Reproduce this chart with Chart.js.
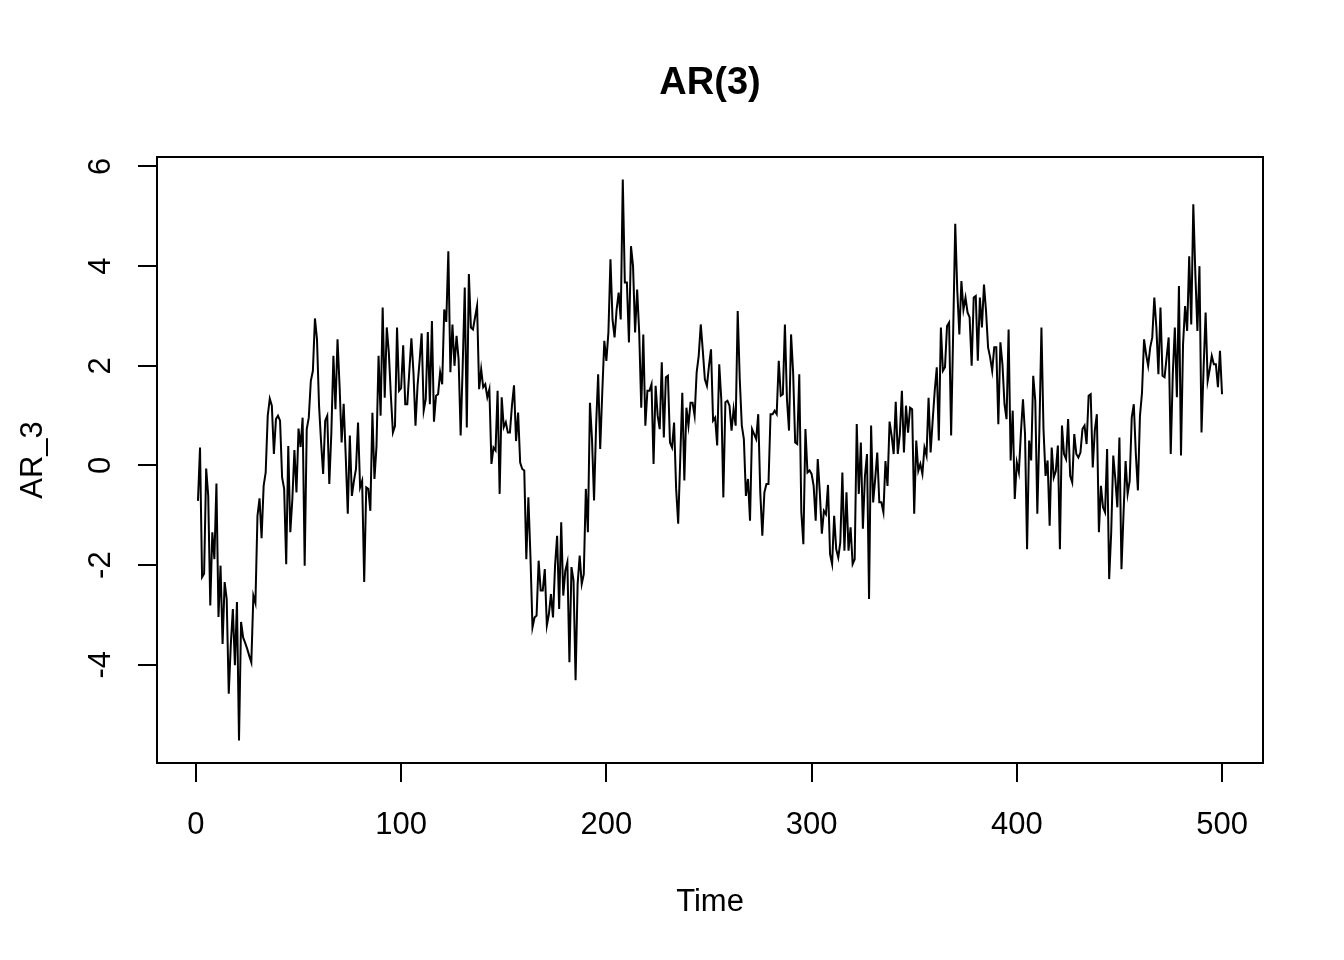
<!DOCTYPE html>
<html>
<head>
<meta charset="utf-8">
<script src="https://cdn.jsdelivr.net/npm/chart.js@4/dist/chart.umd.min.js"></script>
<style>
  html, body { margin: 0; padding: 0; background: #fff; }
  #wrap { width: 1344px; height: 960px; }
</style>
</head>
<body>
<div id="wrap"><canvas id="chart" width="1344" height="960"></canvas></div>
<script>
// AR(3) simulated series (t = 1..500)
const ar3 = [
  -0.71, 0.36, -2.24, -2.17, -0.06, -0.61, -2.81, -1.34, -1.88, -0.36,
  -3.04, -2.01, -3.58, -2.34, -2.68, -4.58, -3.6, -2.88, -4.01, -2.74,
  -5.52, -3.14, -3.45, -3.56, -3.68, -3.82, -3.95, -2.61, -2.76, -1.01,
  -0.66, -1.46, -0.41, -0.14, 1.0, 1.34, 1.2, 0.23, 0.93, 1.0,
  0.9, -0.24, -0.47, -1.98, 0.39, -1.34, -0.67, 0.31, -0.54, 0.74,
  0.37, 0.96, -2.01, 0.73, 0.96, 1.7, 1.9, 2.95, 2.53, 1.2,
  0.46, -0.17, 0.9, 1.0, -0.37, 0.66, 2.2, 1.13, 2.53, 1.6,
  0.46, 1.24, 0.19, -0.97, 0.6, -0.61, -0.31, -0.07, 0.86, -0.44,
  -0.31, -2.34, -0.44, -0.47, -0.91, 1.06, -0.27, 0.39, 2.2, 1.0,
  3.17, 1.36, 2.77, 2.27, 1.4, 0.66, 0.79, 2.77, 1.5, 1.55,
  2.41, 1.23, 1.23, 1.9, 2.55, 1.87, 0.8, 1.6, 2.1, 2.65,
  1.1, 1.33, 2.68, 1.23, 2.9, 0.88, 1.4, 1.43, 1.87, 1.63,
  3.13, 2.88, 4.3, 1.87, 2.83, 2.0, 2.6, 2.13, 0.6, 2.0,
  3.57, 0.76, 3.84, 2.77, 2.73, 2.97, 3.2, 1.53, 1.93, 1.57,
  1.63, 1.37, 1.53, 0.03, 0.36, 0.3, 1.5, -0.57, 1.37, 0.77,
  0.87, 0.66, 0.66, 1.2, 1.61, 0.49, 1.06, 0.06, -0.07, -0.1,
  -1.88, -0.64, -1.81, -3.25, -3.05, -3.01, -1.91, -2.51, -2.51, -2.08,
  -3.21, -2.98, -2.58, -3.05, -2.01, -1.41, -2.88, -1.14, -2.61, -2.11,
  -1.94, -3.95, -2.04, -2.31, -4.31, -2.38, -1.81, -2.38, -2.18, -0.47,
  -1.34, 1.26, 0.53, -0.7, 0.8, 1.83, 0.33, 1.46, 2.5, 2.1,
  2.67, 4.14, 2.93, 2.57, 3.13, 3.47, 2.93, 5.74, 3.67, 3.67,
  2.47, 4.4, 4.0, 2.67, 3.53, 2.67, 1.16, 2.63, 0.8, 1.5,
  1.5, 1.63, 0.03, 1.6, 1.0, 0.73, 2.07, 0.56, 1.77, 1.8,
  0.46, 0.36, 0.86, -0.47, -1.17, 0.13, 1.46, -0.3, 1.16, 0.8,
  1.26, 1.26, 1.0, 1.87, 2.2, 2.83, 2.3, 1.73, 1.6, 2.0,
  2.33, 0.9, 0.96, 0.4, 2.03, 1.33, -0.64, 1.27, 1.3, 1.2,
  0.7, 1.13, 0.8, 3.1, 1.73, 0.8, 0.53, -0.61, -0.27, -1.11,
  0.73, 0.63, 0.53, 1.03, -0.54, -1.41, -0.54, -0.37, -0.37, 1.03,
  1.03, 1.1, 1.03, 2.1, 1.4, 1.43, 2.83, 1.33, 0.7, 2.63,
  1.87, 0.46, 0.43, 1.83, -0.94, -1.58, 0.73, -0.14, -0.1, -0.17,
  -0.41, -1.11, 0.13, -0.54, -1.37, -0.91, -0.98, -0.39, -1.78, -1.98,
  -1.01, -1.68, -1.85, -1.54, -0.14, -1.71, -0.54, -1.71, -1.24, -1.98,
  -1.88, 0.83, -0.57, 0.46, -1.27, -0.21, 0.23, -2.68, 0.8, -0.74,
  -0.27, 0.26, -0.74, -0.74, -0.94, 0.09, -0.41, 0.88, 0.6, 0.23,
  1.28, 0.23, 0.63, 1.5, 0.26, 1.2, 0.66, 1.16, 1.13, -0.97,
  0.5, -0.11, 0.03, -0.17, 0.36, 0.2, 1.36, 0.26, 0.9, 1.5,
  1.97, 0.5, 2.77, 1.9, 1.97, 2.8, 2.87, 0.6, 2.7, 4.85,
  3.5, 2.63, 3.7, 3.13, 3.37, 3.07, 2.97, 2.0, 3.37, 3.4,
  2.1, 3.37, 2.77, 3.63, 3.1, 2.37, 2.17, 1.9, 2.37, 2.37,
  0.83, 2.47, 2.03, 1.23, 0.93, 2.73, 0.1, 1.1, -0.67, 0.06,
  -0.14, 0.66, 1.33, 0.63, -1.68, 0.5, 0.1, 1.8, 1.3, -0.97,
  0.7, 2.77, 0.73, -0.21, 0.1, -1.21, 0.36, -0.24, -0.11, 0.4,
  -1.68, 0.8, 0.23, 0.13, 0.93, -0.21, -0.34, 0.63, 0.23, 0.16,
  0.26, 0.73, 0.8, 0.43, 1.4, 1.43, -0.04, 0.7, 1.03, -1.34,
  -0.41, -0.84, -0.94, 0.33, -2.28, -1.34, 0.2, -0.27, -0.84, 0.56,
  -2.08, -0.97, 0.09, -0.57, -0.31, 0.96, 1.23, 0.23, -0.5, 0.99,
  1.46, 2.53, 2.23, 2.0, 2.37, 2.57, 3.37, 2.77, 1.83, 3.17,
  1.8, 1.77, 2.17, 2.57, 0.23, 1.83, 2.77, 1.37, 3.6, 0.2,
  2.43, 3.2, 2.7, 4.2, 2.83, 5.24, 3.84, 2.7, 4.0, 0.66,
  1.93, 3.07, 1.7, 1.93, 2.2, 2.03, 2.03, 1.57, 2.3, 1.43
];

const xTicks = [0, 100, 200, 300, 400, 500];
const yTicks = [-4, -2, 0, 2, 4, 6];

const points = ar3.map((v, i) => ({ x: i + 1, y: v }));

const FONT = 'Liberation Sans, Arial, Helvetica, sans-serif';

// R-style full box around the plot region
const boxPlugin = {
  id: 'box',
  afterDraw(chart) {
    const { ctx, chartArea: a } = chart;
    ctx.save();
    ctx.strokeStyle = '#000';
    ctx.lineWidth = 2;
    ctx.strokeRect(a.left, a.top, a.right - a.left, a.bottom - a.top);
    ctx.restore();
  },
};

const axisStyle = {
  grid: {
    display: true,
    drawOnChartArea: false,
    drawTicks: true,
    tickLength: 19,
    lineWidth: 2,
    color: '#000',
  },
  border: { display: false },
};

new Chart(document.getElementById('chart').getContext('2d'), {
  type: 'line',
  data: {
    datasets: [{
      data: points,
      borderColor: '#000',
      borderWidth: 2,
      pointRadius: 0,
      tension: 0,
      fill: false,
    }],
  },
  options: {
    responsive: false,
    animation: false,
    devicePixelRatio: 1,
    layout: { padding: { left: 0, right: 81, top: 0, bottom: 0 } },
    plugins: {
      legend: { display: false },
      tooltip: { enabled: false },
      title: {
        display: true,
        fullSize: false,
        text: 'AR(3)',
        color: '#000',
        font: { family: FONT, size: 38, weight: 'bold', lineHeight: 1.2 },
        padding: { top: 61, bottom: 50.4 },
      },
    },
    scales: {
      x: {
        type: 'linear',
        min: -18.96,
        max: 519.96,
        ...axisStyle,
        afterBuildTicks(scale) { scale.ticks = xTicks.map(v => ({ value: v })); },
        afterFit(scale) { scale.height = 197; },
        ticks: {
          color: '#000',
          font: { family: FONT, size: 31 },
          padding: 25,
          maxRotation: 0,
          callback: v => String(v),
        },
        title: {
          display: true,
          text: 'Time',
          color: '#000',
          font: { family: FONT, size: 31, lineHeight: 1.2 },
          padding: { top: 0, bottom: 39 },
        },
      },
      y: {
        type: 'linear',
        min: -5.97,
        max: 6.19,
        ...axisStyle,
        afterBuildTicks(scale) { scale.ticks = yTicks.map(v => ({ value: v })); },
        afterFit(scale) { scale.width = 157; },
        ticks: {
          color: '#000',
          font: { family: FONT, size: 31 },
          padding: 23,
          minRotation: 90,
          maxRotation: 90,
          crossAlign: 'center',
          callback: v => String(v),
        },
        title: {
          display: true,
          text: 'AR_3',
          color: '#000',
          font: { family: FONT, size: 31, lineHeight: 1.2 },
          padding: { top: 15, bottom: 0 },
        },
      },
    },
  },
  plugins: [boxPlugin],
});
</script>
</body>
</html>
